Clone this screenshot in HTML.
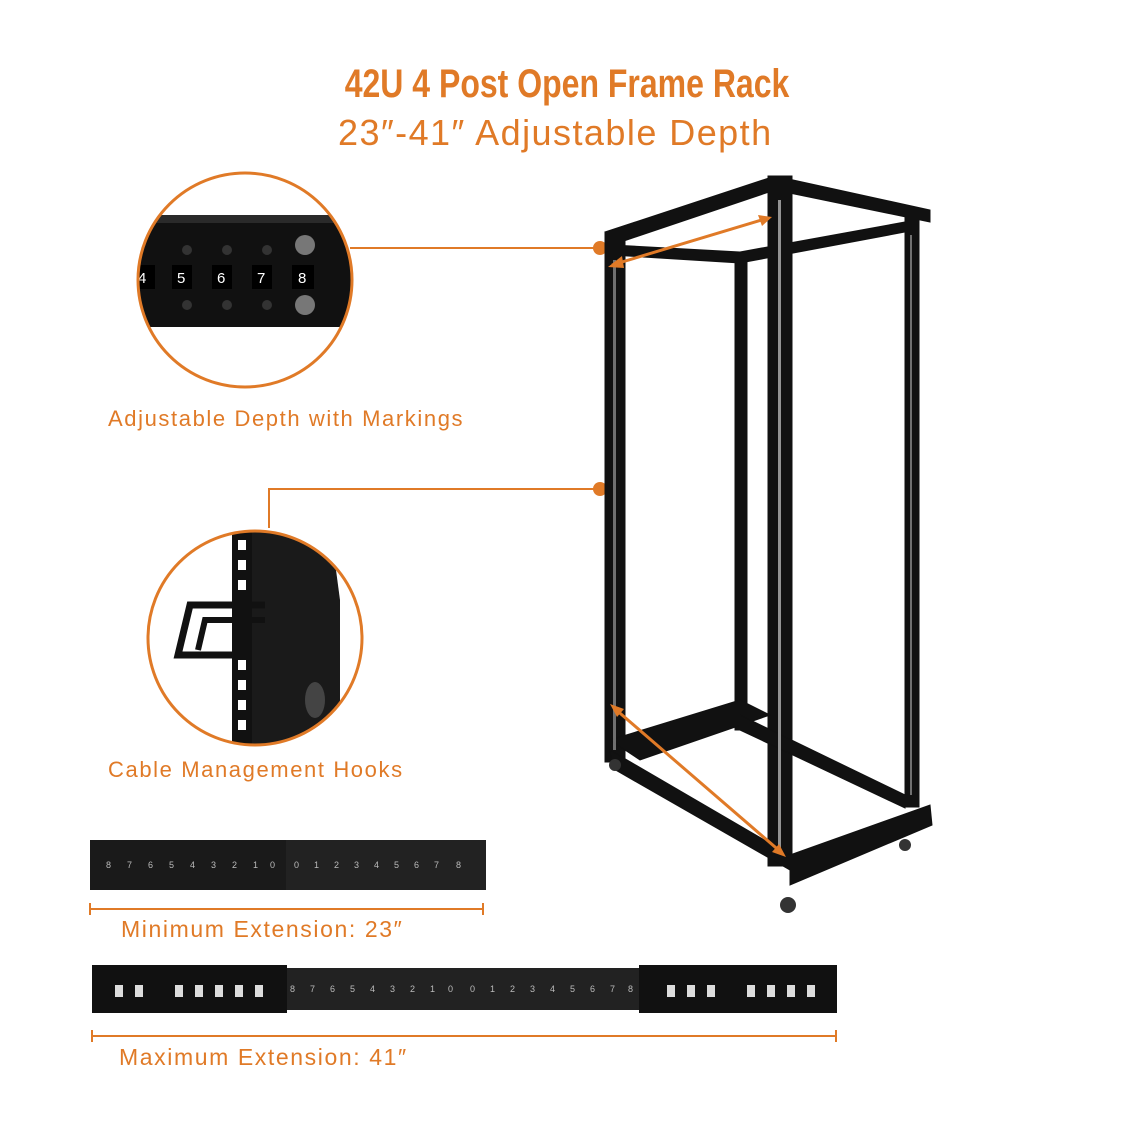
<!DOCTYPE html>
<html><head><meta charset="utf-8"><style>
html,body{margin:0;padding:0;background:#fff;}
body{width:1134px;height:1134px;position:relative;overflow:hidden;font-family:"Liberation Sans",sans-serif;}
.t{position:absolute;color:#e07a27;white-space:nowrap;}
.l{letter-spacing:1.6px;}
</style></head><body>
<div class="t" style="left:0;width:1134px;text-align:center;top:62px;font-size:40px;font-weight:bold;font-family:'Liberation Sans Narrow','Liberation Sans',sans-serif;transform:scaleX(0.8);">42U 4 Post Open Frame Rack</div>
<div class="t" style="left:338px;top:112px;font-size:36px;letter-spacing:1.45px;">23″-41″ Adjustable Depth</div>
<div class="t l" style="left:108px;top:406px;font-size:22px;">Adjustable Depth with Markings</div>
<div class="t l" style="left:108px;top:757px;font-size:22px;">Cable Management Hooks</div>
<div class="t l" style="left:121px;top:916px;font-size:23px;">Minimum Extension: 23″</div>
<div class="t l" style="left:119px;top:1044px;font-size:23px;">Maximum Extension: 41″</div>
<svg width="1134" height="1134" style="position:absolute;left:0;top:0" xmlns="http://www.w3.org/2000/svg">
<defs>
<clipPath id="c1"><circle cx="245" cy="280" r="107"/></clipPath>
<clipPath id="c2"><circle cx="255" cy="638" r="107"/></clipPath>
</defs>
<g clip-path="url(#c1)">
<rect x="130" y="215" width="230" height="112" fill="#111"/>
<rect x="130" y="215" width="230" height="8" fill="#2a2a2a"/>
<g fill="#000"><rect x="135" y="265" width="20" height="24"/><rect x="172" y="265" width="20" height="24"/><rect x="212" y="265" width="20" height="24"/><rect x="252" y="265" width="20" height="24"/><rect x="292" y="265" width="22" height="24"/></g>
<g fill="#fff" font-size="15" font-family="Liberation Sans"><text x="138" y="283">4</text><text x="177" y="283">5</text><text x="217" y="283">6</text><text x="257" y="283">7</text><text x="298" y="283">8</text></g>
<g fill="#333"><circle cx="187" cy="250" r="5"/><circle cx="227" cy="250" r="5"/><circle cx="267" cy="250" r="5"/><circle cx="187" cy="305" r="5"/><circle cx="227" cy="305" r="5"/><circle cx="267" cy="305" r="5"/></g>
<circle cx="305" cy="245" r="10" fill="#777"/><circle cx="305" cy="305" r="10" fill="#777"/>
</g>
<circle cx="245" cy="280" r="107" fill="none" stroke="#e07a27" stroke-width="3"/>
<g clip-path="url(#c2)">
<rect x="232" y="525" width="20" height="230" fill="#111"/>
<g fill="#fff"><rect x="238" y="540" width="8" height="10"/><rect x="238" y="560" width="8" height="10"/><rect x="238" y="580" width="8" height="10"/><rect x="238" y="660" width="8" height="10"/><rect x="238" y="680" width="8" height="10"/><rect x="238" y="700" width="8" height="10"/><rect x="238" y="720" width="8" height="10"/></g>
<polygon points="252,525 330,525 340,600 340,755 252,755" fill="#1a1a1a"/>
<ellipse cx="315" cy="700" rx="10" ry="18" fill="#444"/>
<path d="M265,605 L190,605 L178,655 L245,655" fill="none" stroke="#111" stroke-width="7"/>
<path d="M265,620 L205,620 L198,650" fill="none" stroke="#111" stroke-width="6"/>
</g>
<circle cx="255" cy="638" r="107" fill="none" stroke="#e07a27" stroke-width="3"/>
<line x1="350" y1="248" x2="600" y2="248" stroke="#e07a27" stroke-width="2"/>
<circle cx="600" cy="248" r="7" fill="#e07a27"/>
<polyline points="269,528 269,489 600,489" fill="none" stroke="#e07a27" stroke-width="2"/>
<circle cx="600" cy="489" r="7" fill="#e07a27"/>
<g fill="#111" stroke="#111">
<polygon points="605,232 775,176 930,210 930,222 775,190 612,245"/>
<polygon points="612,245 740,252 905,222 905,232 740,263 612,255"/>
<rect x="605" y="232" width="20" height="530"/>
<rect x="735" y="255" width="12" height="475"/>
<rect x="905" y="212" width="14" height="595"/>
<rect x="768" y="176" width="24" height="690"/>
<polygon points="610,740 740,700 770,715 640,760"/>
<polygon points="610,750 790,855 790,870 612,768"/>
<polygon points="790,855 930,805 932,825 790,885"/>
<polygon points="740,715 905,795 905,808 740,730"/>
</g>
<g fill="#fff"><rect x="778" y="200" width="3" height="650" opacity="0.55"/><rect x="613" y="260" width="3" height="490" opacity="0.4"/><rect x="910" y="235" width="2" height="560" opacity="0.4"/></g>
<circle cx="788" cy="905" r="8" fill="#333"/><circle cx="615" cy="765" r="6" fill="#333"/><circle cx="905" cy="845" r="6" fill="#333"/>
<line x1="612" y1="265" x2="768" y2="218" stroke="#e07a27" stroke-width="3"/>
<polygon points="608,267 622,256 624,268" fill="#e07a27"/>
<polygon points="772,217 758,215 762,226" fill="#e07a27"/>
<line x1="614" y1="708" x2="782" y2="853" stroke="#e07a27" stroke-width="3"/>
<polygon points="610,704 624,709 617,717" fill="#e07a27"/>
<polygon points="786,857 772,852 779,844" fill="#e07a27"/>
<rect x="90" y="840" width="196" height="50" fill="#1a1a1a"/>
<rect x="286" y="840" width="200" height="50" fill="#222"/>
<g fill="#bbb" font-size="9" font-family="Liberation Sans">
<text x="106" y="868">8</text><text x="127" y="868">7</text><text x="148" y="868">6</text><text x="169" y="868">5</text><text x="190" y="868">4</text><text x="211" y="868">3</text><text x="232" y="868">2</text><text x="253" y="868">1</text><text x="270" y="868">0</text>
<text x="294" y="868">0</text><text x="314" y="868">1</text><text x="334" y="868">2</text><text x="354" y="868">3</text><text x="374" y="868">4</text><text x="394" y="868">5</text><text x="414" y="868">6</text><text x="434" y="868">7</text><text x="456" y="868">8</text></g>
<line x1="90" y1="909" x2="483" y2="909" stroke="#e07a27" stroke-width="2"/>
<line x1="90" y1="903" x2="90" y2="915" stroke="#e07a27" stroke-width="2"/>
<line x1="483" y1="903" x2="483" y2="915" stroke="#e07a27" stroke-width="2"/>
<rect x="92" y="965" width="195" height="48" fill="#111"/>
<rect x="287" y="968" width="352" height="42" fill="#222"/>
<rect x="639" y="965" width="198" height="48" fill="#111"/>
<g fill="#ddd">
<rect x="115" y="985" width="8" height="12"/><rect x="135" y="985" width="8" height="12"/><rect x="175" y="985" width="8" height="12"/><rect x="195" y="985" width="8" height="12"/><rect x="215" y="985" width="8" height="12"/><rect x="235" y="985" width="8" height="12"/><rect x="255" y="985" width="8" height="12"/>
<rect x="667" y="985" width="8" height="12"/><rect x="687" y="985" width="8" height="12"/><rect x="707" y="985" width="8" height="12"/><rect x="747" y="985" width="8" height="12"/><rect x="767" y="985" width="8" height="12"/><rect x="787" y="985" width="8" height="12"/><rect x="807" y="985" width="8" height="12"/>
</g>
<g fill="#bbb" font-size="9" font-family="Liberation Sans">
<text x="290" y="992">8</text><text x="310" y="992">7</text><text x="330" y="992">6</text><text x="350" y="992">5</text><text x="370" y="992">4</text><text x="390" y="992">3</text><text x="410" y="992">2</text><text x="430" y="992">1</text><text x="448" y="992">0</text>
<text x="470" y="992">0</text><text x="490" y="992">1</text><text x="510" y="992">2</text><text x="530" y="992">3</text><text x="550" y="992">4</text><text x="570" y="992">5</text><text x="590" y="992">6</text><text x="610" y="992">7</text><text x="628" y="992">8</text></g>
<line x1="92" y1="1036" x2="836" y2="1036" stroke="#e07a27" stroke-width="2"/>
<line x1="92" y1="1030" x2="92" y2="1042" stroke="#e07a27" stroke-width="2"/>
<line x1="836" y1="1030" x2="836" y2="1042" stroke="#e07a27" stroke-width="2"/>
</svg>
</body></html>
